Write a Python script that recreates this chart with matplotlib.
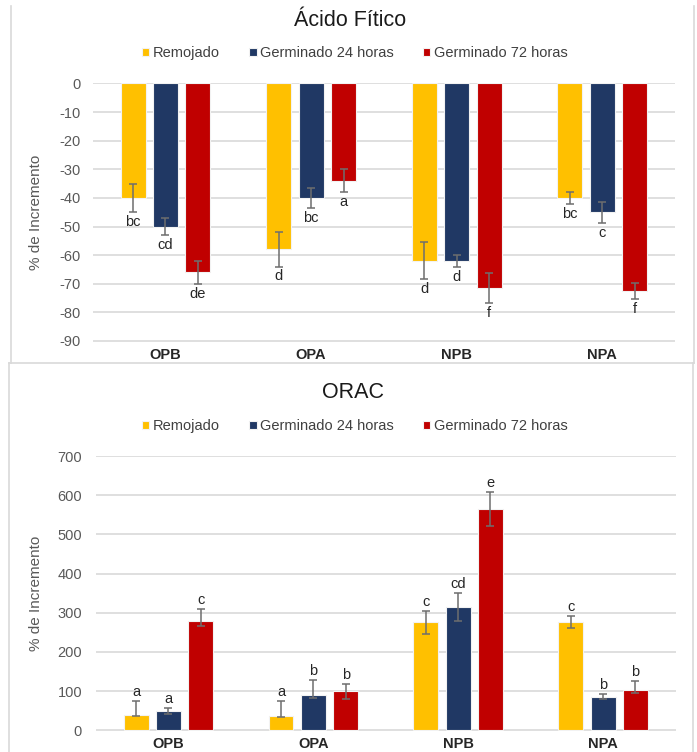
import numpy as np
import matplotlib
matplotlib.use("Agg")
import matplotlib.pyplot as plt
from matplotlib.lines import Line2D

plt.rcParams['font.family'] = ['Liberation Sans', 'DejaVu Sans']

categories = ['OPB', 'OPA', 'NPB', 'NPA']
series = ['Remojado', 'Germinado 24 horas', 'Germinado 72 horas']
colors = ['#FFC000', '#203864', '#C00000']

# Ácido fítico (% de incremento)
fitico_remojado = [-40, -58, -62, -40]
fitico_g24 = [-50, -40, -62, -45]
fitico_g72 = [-66, -34, -71.5, -72.5]
fitico_err_remojado = [5, 6, 6.5, 2]
fitico_err_g24 = [3, 3.5, 2.2, 3.7]
fitico_err_g72 = [4, 4, 5.2, 2.9]
fitico_letras_remojado = ['bc', 'd', 'd', 'bc']
fitico_letras_g24 = ['cd', 'bc', 'd', 'c']
fitico_letras_g72 = ['de', 'a', 'f', 'f']
fitico_ticks = list(range(0, -100, -10))

# ORAC (% de incremento)
orac_remojado = [40, 37, 276, 277]
orac_g24 = [50, 89, 314, 86]
orac_g72 = [278, 101, 564, 104]
orac_err_lo_remojado = [4, 2, 30, 16]
orac_err_hi_remojado = [34, 38, 29, 15]
orac_err_lo_g24 = [8, 7, 34, 6]
orac_err_hi_g24 = [8, 40, 36, 6]
orac_err_lo_g72 = [13, 20, 42, 10]
orac_err_hi_g72 = [32, 17, 44, 22]
orac_letras_remojado = ['a', 'a', 'c', 'c']
orac_letras_g24 = ['a', 'b', 'cd', 'b']
orac_letras_g72 = ['c', 'b', 'e', 'b']
orac_ticks = list(range(0, 800, 100))

W, H = 697, 752
fig = plt.figure(figsize=(W / 100, H / 100), dpi=100)
fig.patch.set_facecolor('white')


def fx(px):
    return px / W


def fy(py):
    return 1 - py / H


TICK_COLOR = '#595959'
GRID_COLOR = '#D9D9D9'
ERR_COLOR = '#6E6E6E'
BAR_W = 0.172
OFFSETS = [-0.223, 0.0, 0.223]


def draw_panel(ax, values, err_lo, err_hi, letters, ticks, ylim, downward, tick_pad):
    x = np.arange(len(categories))
    for i in range(3):
        xs = x + OFFSETS[i]
        ax.bar(xs, values[i], width=BAR_W, color=colors[i],
               edgecolor='#F2F2F2', linewidth=0.8, zorder=2, label=series[i])
        ax.errorbar(xs, values[i], yerr=[err_lo[i], err_hi[i]], fmt='none',
                    ecolor=ERR_COLOR, elinewidth=1.1, capsize=3, capthick=1.1,
                    zorder=3)
        for xi, v, lo, hi, t in zip(xs, values[i], err_lo[i], err_hi[i], letters[i]):
            if downward:
                ax.annotate(t, (xi, v - lo), xytext=(0, -10), textcoords='offset points',
                            ha='center', va='baseline', fontsize=10.5, color='#262626',
                            zorder=4)
            else:
                ax.annotate(t, (xi, v + hi), xytext=(0, 3.5), textcoords='offset points',
                            ha='center', va='baseline', fontsize=10.5, color='#262626',
                            zorder=4)
    ax.set_xlim(-0.5, len(categories) - 0.5)
    ax.set_ylim(*ylim)
    ax.set_yticks(ticks)
    ax.set_yticklabels([str(t) for t in ticks])
    ax.set_xticks(x)
    ax.set_xticklabels(categories, fontweight='bold', fontsize=10.5, color='#262626')
    ax.grid(axis='y', color=GRID_COLOR, linewidth=1.2)
    ax.set_axisbelow(True)
    for s in ax.spines.values():
        s.set_visible(False)
    ax.tick_params(axis='both', length=0)
    ax.tick_params(axis='y', labelsize=10.5, labelcolor=TICK_COLOR, pad=tick_pad)
    ax.tick_params(axis='x', pad=4.5)
    ax.set_ylabel('% de Incremento', fontsize=11, color=TICK_COLOR)


# Panel frames
frame_kw = dict(color=GRID_COLOR, linewidth=1.2, transform=fig.transFigure)
fig.add_artist(Line2D([fx(11), fx(11)], [fy(6), fy(363)], **frame_kw))
fig.add_artist(Line2D([fx(694), fx(694)], [fy(6), fy(363)], **frame_kw))
fig.add_artist(Line2D([fx(9), fx(694)], [fy(363), fy(363)], **frame_kw))
fig.add_artist(Line2D([fx(9), fx(9)], [fy(363), fy(752)], **frame_kw))
fig.add_artist(Line2D([fx(693), fx(693)], [fy(363), fy(752)], **frame_kw))

legend_kw = dict(loc='center', ncol=3, frameon=False, fontsize=10.5,
                 handlelength=0.5, handleheight=0.5, handletextpad=0.25,
                 columnspacing=2.0, labelcolor='#404040')

# Ácido fítico
ax1 = fig.add_axes([fx(92.7), fy(341.7), fx(675 - 92.7), (341.7 - 82.7) / H])
draw_panel(ax1,
           [fitico_remojado, fitico_g24, fitico_g72],
           [fitico_err_remojado, fitico_err_g24, fitico_err_g72],
           [fitico_err_remojado, fitico_err_g24, fitico_err_g72],
           [fitico_letras_remojado, fitico_letras_g24, fitico_letras_g72],
           fitico_ticks, (-90.25, 0.25), True, 9)
ax1.yaxis.set_label_coords(fx(43), fy(212), transform=fig.transFigure)
fig.text(fx(350), fy(20), 'Ácido Fítico', ha='center', va='center',
         fontsize=15.5, color='#1A1A1A')
h1, l1 = ax1.get_legend_handles_labels()
fig.legend(h1, l1, bbox_to_anchor=(fx(355), fy(53)), **legend_kw)

# ORAC
ax2 = fig.add_axes([fx(96), fy(730.7), fx(675.5 - 96), (730.7 - 455.7) / H])
draw_panel(ax2,
           [orac_remojado, orac_g24, orac_g72],
           [orac_err_lo_remojado, orac_err_lo_g24, orac_err_lo_g72],
           [orac_err_hi_remojado, orac_err_hi_g24, orac_err_hi_g72],
           [orac_letras_remojado, orac_letras_g24, orac_letras_g72],
           orac_ticks, (-1.2, 701.2), False, 10)
ax2.yaxis.set_label_coords(fx(43), fy(593), transform=fig.transFigure)
fig.text(fx(353), fy(392), 'ORAC', ha='center', va='center',
         fontsize=15.5, color='#1A1A1A')
h2, l2 = ax2.get_legend_handles_labels()
fig.legend(h2, l2, bbox_to_anchor=(fx(355), fy(426)), **legend_kw)

fig.savefig('out.png', dpi=100, facecolor='white')
